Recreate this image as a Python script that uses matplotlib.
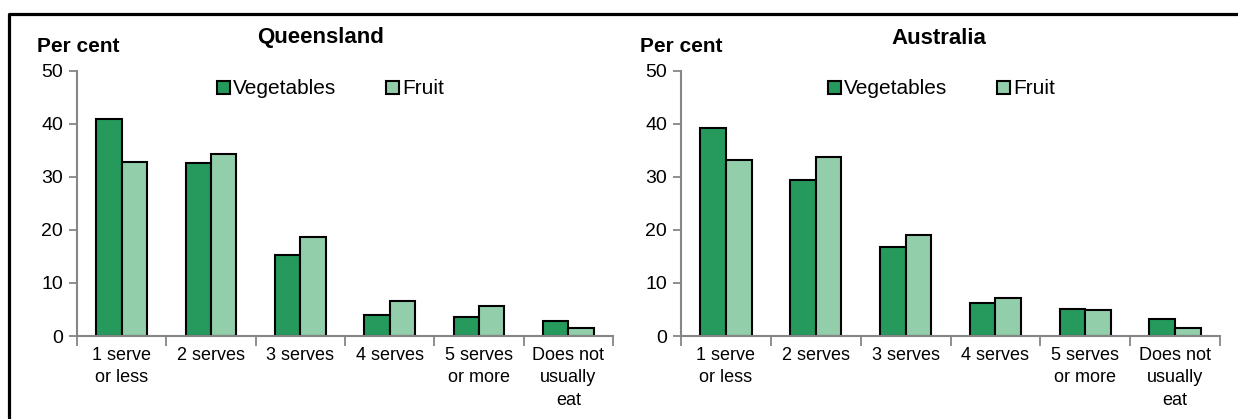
import matplotlib
matplotlib.use("Agg")
from matplotlib import pyplot as plt
from matplotlib.lines import Line2D
import numpy as np

plt.rcParams['font.family'] = ['Liberation Sans', 'DejaVu Sans']

# data
categories = ['1 serve\nor less', '2 serves', '3 serves', '4 serves',
              '5 serves\nor more', 'Does not\nusually\neat']
qld_veg = [41.0, 32.7, 15.2, 4.0, 3.6, 2.8]
qld_fruit = [32.8, 34.4, 18.6, 6.6, 5.6, 1.6]
aus_veg = [39.2, 29.5, 16.7, 6.2, 5.1, 3.2]
aus_fruit = [33.2, 33.8, 19.0, 7.2, 5.0, 1.6]

veg_col = '#259A5C'
fruit_col = '#93CEAB'
axis_col = '#868686'

fig = plt.figure(figsize=(12.38, 4.19), dpi=100)

# outer frame (only top and left edges visible in the crop)
fig.add_artist(Line2D([9 / 1238, 9 / 1238, 1.0], [0.0, 1 - 14 / 419, 1 - 14 / 419],
                      transform=fig.transFigure, color='black', lw=2.3))

panels = [
    ('Queensland', qld_veg, qld_fruit, [77 / 1238, 0.198, 536 / 1238, 0.633],
     37 / 1238, 321 / 1238, 207 / 1238),
    ('Australia', aus_veg, aus_fruit, [681 / 1238, 0.198, 539 / 1238, 0.633],
     640 / 1238, 939 / 1238, 818 / 1238),
]

x = np.arange(len(categories))
w = 0.285

for title, veg, fruit, rect, pc_x, title_x, leg_x in panels:
    ax = fig.add_axes(rect)
    ax.bar(x - w / 2, veg, w, color=veg_col, edgecolor='black', linewidth=1.5, label='Vegetables')
    ax.bar(x + w / 2, fruit, w, color=fruit_col, edgecolor='black', linewidth=1.5, label='Fruit')

    ax.set_xlim(-0.5, len(categories) - 0.5)
    ax.set_ylim(0, 50)
    ax.set_yticks([0, 10, 20, 30, 40, 50])
    ax.tick_params(axis='y', colors=axis_col, labelcolor='black', labelsize=14,
                   length=6, width=1.3, pad=4)

    # boundary ticks like excel, labels in the middle
    ax.set_xticks(np.arange(-0.5, len(categories)), labels=[''] * (len(categories) + 1))
    ax.set_xticks(x, labels=categories, minor=True)
    ax.tick_params(axis='x', which='major', colors=axis_col, length=7, width=1.3)
    ax.tick_params(axis='x', which='minor', length=0, labelsize=13, pad=8)
    for lab in ax.get_xticklabels(minor=True):
        lab.set_linespacing(1.4)

    for s in ['top', 'right']:
        ax.spines[s].set_visible(False)
    for s in ['left', 'bottom']:
        ax.spines[s].set_color(axis_col)
        ax.spines[s].set_linewidth(1.5)

    fig.text(pc_x, 1 - 46 / 419, 'Per cent', fontsize=15, fontweight='bold', va='center')
    fig.text(title_x, 1 - 38 / 419, title, fontsize=16, fontweight='bold',
             ha='center', va='center')

    ax.legend(loc='center left', bbox_to_anchor=(leg_x, 1 - 89 / 419),
              bbox_transform=fig.transFigure, ncol=2, frameon=False,
              fontsize=15, handlelength=0.6, handleheight=0.6,
              handletextpad=0.15, columnspacing=2.4, borderpad=0)

fig.savefig('out.png', dpi=100)
